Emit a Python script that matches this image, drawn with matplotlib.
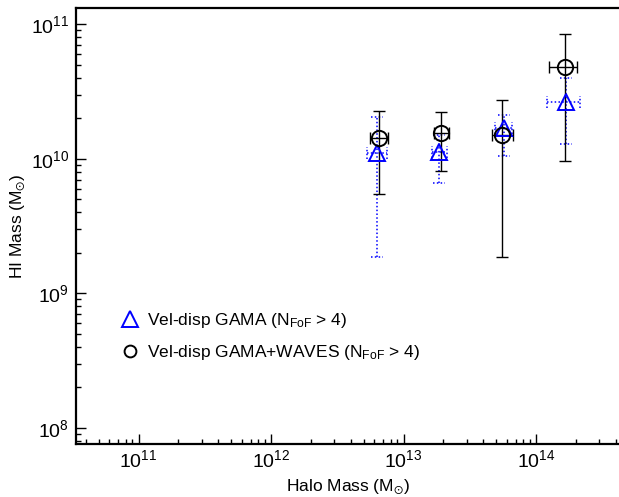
"""HI mass versus halo mass for the velocity-dispersion group samples."""

import matplotlib

matplotlib.use("Agg")
import matplotlib.pyplot as plt
from matplotlib.lines import Line2D
from matplotlib.ticker import LogLocator, NullFormatter
import numpy as np

plt.rcParams.update(
    {
        "font.family": ["Liberation Sans", "DejaVu Sans"],
        "mathtext.fontset": "custom",
        "mathtext.rm": "Liberation Sans",
        "mathtext.it": "Liberation Sans:italic",
        "mathtext.default": "regular",
    }
)

# Vel-disp GAMA (N_FoF > 4): blue triangles, dotted errors
halo_gama = np.array([6.31e12, 1.86e13, 5.73e13, 1.68e14])
halo_gama_lo = np.array([5.27e12, 1.63e13, 4.91e13, 1.20e14])
halo_gama_hi = np.array([7.47e12, 2.12e13, 6.56e13, 2.15e14])
hi_gama = np.array([1.11e10, 1.13e10, 1.70e10, 2.64e10])
hi_gama_lo = np.array([1.85e9, 6.6e9, 1.04e10, 1.28e10])
hi_gama_hi = np.array([2.04e10, 1.51e10, 2.12e10, 4.02e10])

# Vel-disp GAMA+WAVES (N_FoF > 4): black circles, solid errors
halo_waves = np.array([6.55e12, 1.92e13, 5.53e13, 1.66e14])
halo_waves_lo = np.array([5.59e12, 1.70e13, 4.63e13, 1.25e14])
halo_waves_hi = np.array([7.67e12, 2.22e13, 6.75e13, 2.03e14])
hi_waves = np.array([1.43e10, 1.55e10, 1.51e10, 4.78e10])
hi_waves_lo = np.array([5.5e9, 8.05e9, 1.87e9, 9.7e9])
hi_waves_hi = np.array([2.27e10, 2.22e10, 2.75e10, 8.49e10])

label_gama = r"Vel-disp GAMA (N$_{FoF}$ > 4)"
label_waves = r"Vel-disp GAMA+WAVES (N$_{FoF}$ > 4)"

BLUE = "#0000ff"
DOTS = (0, (1, 1.5))
FS = 12.5

fig = plt.figure(figsize=(6.19, 4.97), dpi=100, facecolor="white")
ax = fig.add_axes([76 / 619, 53 / 497, 543 / 619, 435.7 / 497])
ax.set_xscale("log")
ax.set_yscale("log")
ax.set_xlim(10**10.528, 10**14.626)
ax.set_ylim(10**7.879, 10**11.119)

# dotted error bars (triangles); caps are drawn as short dotted lines
cap_x = 10 ** (6 / 132.5)
cap_y = 10 ** (6 / 134.5)
ax.vlines(halo_gama, hi_gama_lo, hi_gama_hi, colors=BLUE, linestyles=[DOTS], linewidth=1.1)
ax.hlines(hi_gama, halo_gama_lo, halo_gama_hi, colors=BLUE, linestyles=[DOTS], linewidth=1.1)
for y_cap in (hi_gama_lo, hi_gama_hi):
    ax.hlines(y_cap, halo_gama / cap_x, halo_gama * cap_x, colors=BLUE, linestyles=[DOTS], linewidth=1.1)
for x_cap in (halo_gama_lo, halo_gama_hi):
    ax.vlines(x_cap, hi_gama / cap_y, hi_gama * cap_y, colors=BLUE, linestyles=[DOTS], linewidth=1.1)

# solid error bars (circles)
ax.errorbar(
    halo_waves,
    hi_waves,
    xerr=[halo_waves - halo_waves_lo, halo_waves_hi - halo_waves],
    yerr=[hi_waves - hi_waves_lo, hi_waves_hi - hi_waves],
    fmt="none",
    ecolor="black",
    elinewidth=1,
    capsize=4,
    capthick=1,
)

ax.plot(halo_gama, hi_gama, ls="none", marker="^", ms=11.5, mfc="none", mec=BLUE, mew=1.4, zorder=4)
ax.plot(halo_waves, hi_waves, ls="none", marker="o", ms=11, mfc="none", mec="black", mew=1.4, zorder=4)

ax.xaxis.set_minor_locator(LogLocator(base=10, subs=np.arange(2, 10), numticks=20))
ax.yaxis.set_minor_locator(LogLocator(base=10, subs=np.arange(2, 10), numticks=20))
ax.xaxis.set_minor_formatter(NullFormatter())
ax.yaxis.set_minor_formatter(NullFormatter())
ax.tick_params(which="both", direction="in", top=False, right=False, width=1, labelsize=14)
ax.tick_params(which="major", length=7)
ax.tick_params(which="minor", length=3.6)
ax.tick_params(axis="x", pad=4)
ax.tick_params(axis="y", pad=5)

for side in ("left", "bottom", "top"):
    ax.spines[side].set_linewidth(1.6)
ax.spines["right"].set_visible(False)

ax.set_xlabel(r"Halo Mass (M$_{\odot}$)", fontsize=FS)
ax.set_ylabel(r"HI Mass (M$_{\odot}$)", fontsize=FS)
ax.xaxis.set_label_coords(0.5, -0.078)
ax.yaxis.set_label_coords(-0.088, 0.5)

handles = [
    Line2D([], [], ls="none", marker="^", ms=11.5, mfc="none", mec=BLUE, mew=1.4),
    Line2D([], [], ls="none", marker="o", ms=8.5, mfc="none", mec="black", mew=1.4),
]
ax.legend(
    handles,
    [label_gama, label_waves],
    loc="upper left",
    bbox_to_anchor=(0.083, 0.305),
    frameon=False,
    fontsize=FS,
    handlelength=1.0,
    handletextpad=0.5,
    labelspacing=0.75,
    borderpad=0,
    borderaxespad=0,
)

fig.savefig("out.png", dpi=100, facecolor="white")
